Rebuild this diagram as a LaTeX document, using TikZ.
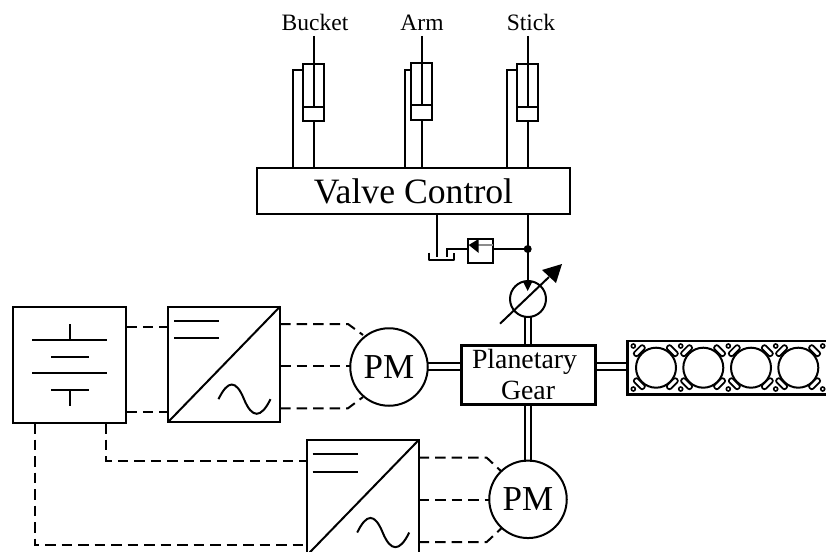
\documentclass[tikz,border=0pt]{standalone}
\usepackage{fontspec}
\setmainfont{Liberation Serif}
\usetikzlibrary{calc}
\tikzset{
  every picture/.style={x=1pt,y=-1pt},
  ln/.style={line width=2pt,draw=black},
  box/.style={ln,rectangle,inner sep=0pt,outer sep=0pt},
  dsh/.style={line width=2pt,dash pattern=on 10.5pt off 6pt},
  cyl/.style={box,minimum width=21pt,minimum height=57pt},
  conv/.style={box,minimum width=112pt,minimum height=115.5pt},
  motor/.style={ln,circle,inner sep=0pt,outer sep=0pt,minimum size=77.5pt,font=\fontsize{35}{35}\selectfont},
  lab/.style={inner sep=0pt,anchor=base,font=\fontsize{23.5}{24}\selectfont},
  slot/.style={line width=1.7pt,rounded corners=2pt},
}
\newcommand{\ConvInner}[1]{%
  \begin{scope}[shift={(#1.north west)}]
    \draw[ln] (6,14) -- (51,14) (6,31.5) -- (51,31.5);
    \draw[ln] (50.5,92.5) .. controls (60,73) and (68,73) .. (76,92.5)
      .. controls (84,112) and (93,112) .. (102.5,92.5);
  \end{scope}
  \draw[ln] (#1.north east) -- (#1.south west);
}
\begin{document}
\begin{tikzpicture}[line join=miter]
\useasboundingbox (0,0) rectangle (826,551);
\clip (0,0) rectangle (826,551);
% valve control
\node[box,minimum width=313pt,minimum height=46pt,font=\fontsize{35.7}{36}\selectfont] (valve) at (413.5,191) {Valve Control};
% cylinders
\node[cyl] (cylB) at (313.5,92.5) {};
\node[cyl] (cylA) at (421.7,91) {};
\node[cyl] (cylS) at (527.7,92.5) {};
\node[lab] (lB) at (315,31) {Bucket};
\node[lab] (lA) at (422,31) {Arm};
\node[lab] (lS) at (531,31) {Stick};
\foreach \c/\px/\lx/\pist in {cylB/292.5/lB/107,cylA/404.5/lA/105,cylS/506.7/lS/107}{
  \coordinate (rodtop) at (\c.north |- 0,36);
  \coordinate (pist) at (\c.center |- 0,\pist);
  \draw[ln] (rodtop) -- (pist);
  \draw[ln] (\c.west |- pist) -- (\c.east |- pist);
  \draw[ln] (\c.south) -- (\c.south |- valve.north);
  \draw[ln] (\px,0 |- valve.north) -- (\px,70) -- (\c.west |- 0,70);
}
% hydraulic part
\coordinate (tee) at (527.7,249);
\node[ln,circle,minimum size=36pt,inner sep=0pt,outer sep=0pt] (pump) at (528,299) {};
\node[box,minimum width=25pt,minimum height=24.5pt] (check) at (480.5,251) {};
\coordinate (tankin) at (446.7,257);
\coordinate (drain) at (436.7,257);
\draw[ln] (valve.south -| tee) -- (pump.north -| tee);
\fill (tee) circle (4pt);
\draw[ln] (tee) -- (check.east |- tee);
\draw[ln] (check.west |- tee) -- (tankin |- tee) -- (tankin);
\draw[ln] (valve.south -| drain) -- (drain);
\draw[ln,line join=round] (429,252.7) -- (429,260) -- (454.3,260) -- (454.3,252.7);
\draw[line width=1.2pt,draw=black!45] (478,245) -- (check.east |- 0,245);
\fill (468.7,245) -- (478.7,239) -- (478.7,253) -- cycle;
\fill (522.7,281) -- (532.7,281) -- (527.7,291) -- cycle;
\draw[ln] (500,323.7) -- (549,277);
\fill (562,264) -- (542,270) -- (556,283) -- cycle;
% gear
\node[box,line width=3pt,minimum width=134pt,minimum height=59pt,align=center,
  font=\fontsize{27.8}{31}\selectfont] (gear) at (528,374.5) {Planetary\kern7pt\\Gear};
% motors
\node[motor] (pm1) at (389,367) {PM};
\node[motor] (pm2) at (528,499.3) {PM};
% shafts
\foreach \o in {-3.4,3.4}{
  \draw[ln] ($(pump.south)+(\o,0)$) -- ($(gear.north)+(\o,0)$);
  \draw[ln] ($(gear.south)+(\o,0)$) -- ($(pm2.north)+(\o,1)$);
}
\coordinate (eng) at (627.3,366.6);
\foreach \o in {-3.3,3.3}{
  \draw[ln] (pm1.east |- 0,366.6) ++(0,\o) -- ($(gear.west |- eng)+(0,\o)$);
  \draw[ln] (gear.east |- eng) ++(0,\o) -- ($(eng)+(0,\o)$);
}
% engine
\draw[line width=2.4pt] (840,341) -- (627.3,341) -- (627.3,394.3) -- (840,394.3);
\foreach \cx in {656,703.3,751,798.3}{
  \draw[line width=2pt] (\cx,367.7) circle (20);
  \foreach \sx/\sy/\rot in {-16.7/-17/45,16.3/-17/-45,-16.7/16/-45,16.3/16/45}{
    \draw[slot,rotate around={\rot:(\cx+\sx,367.7+\sy)}] (\cx+\sx-6.5,367.7+\sy-2.5) rectangle (\cx+\sx+6.5,367.7+\sy+2.5);
  }
}
\foreach \cx in {633.3,680.7,728.3,775.7,822.7}{
  \draw[line width=1.6pt] (\cx,346) circle (2);
  \draw[line width=1.6pt] (\cx,389) circle (2);
}
% battery
\node[box,minimum width=113pt,minimum height=116.5pt] (bat) at (69.8,364.8) {};
\draw[ln] (70,324) -- (70,340) (32.3,340) -- (107.3,340)
  (51.3,356.7) -- (88.7,356.7) (32.3,373.3) -- (107.3,373.3)
  (51.3,390) -- (88.7,390) (70,390) -- (70,406);
% converters
\node[conv] (conv1) at (224,364.4) {};
\node[conv] (conv2) at (362.7,497.8) {};
\ConvInner{conv1}
\ConvInner{conv2}
% dashed connections
\draw[dsh] (bat.east |- 0,327.3) -- (conv1.west |- 0,327.3);
\draw[dsh] (bat.east |- 0,412) -- (conv1.west |- 0,412);
\draw[dsh] (conv1.east |- 0,324) -- (348,324) -- (363,335);
\draw[dsh] (conv1.east |- 0,366) -- (pm1.west |- 0,366);
\draw[dsh] (conv1.east |- 0,408.3) -- (348,408.3) -- (363,397);
\draw[dsh] (conv2.east |- 0,457.7) -- (486.7,457.7) -- (501.7,471.7);
\draw[dsh] (conv2.east |- 0,499.7) -- (pm2.west |- 0,499.7);
\draw[dsh] (conv2.east |- 0,542) -- (486.7,542) -- (501.7,528);
\draw[dsh] (106,423) -- (106,460.7) -- (conv2.west |- 0,460.7);
\draw[dsh] (35,423) -- (35,545) -- (conv2.west |- 0,545);
\end{tikzpicture}
\end{document}
